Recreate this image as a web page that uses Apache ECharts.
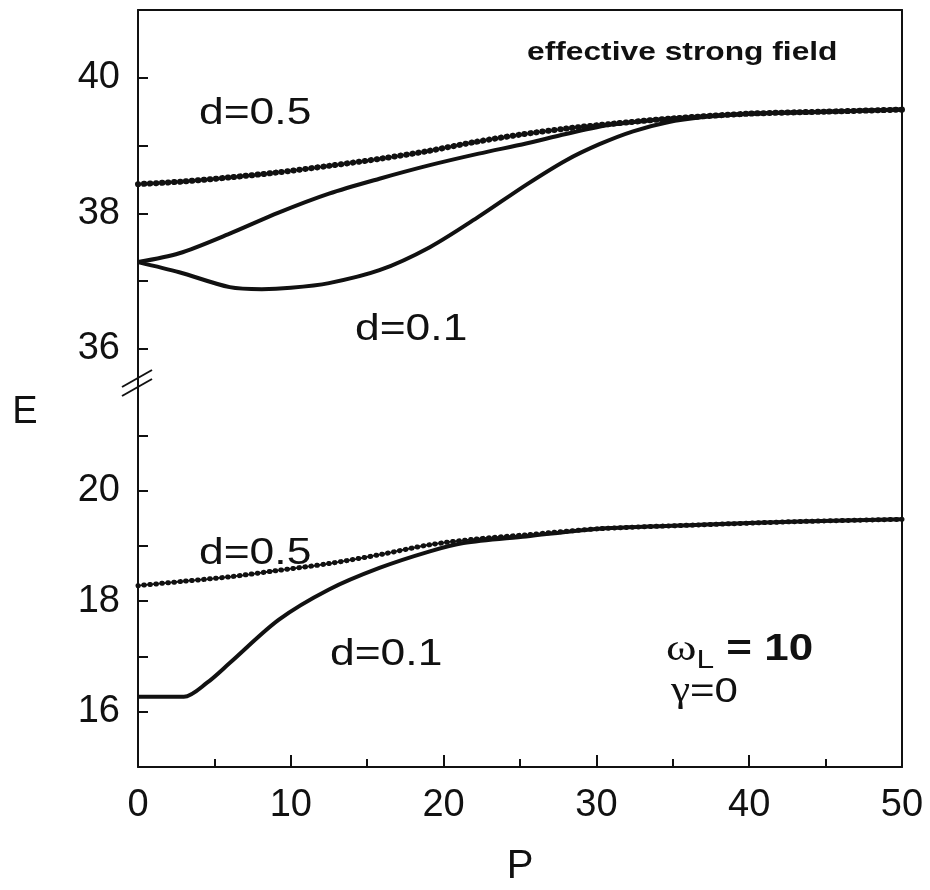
<!DOCTYPE html>
<html>
<head>
<meta charset="utf-8">
<script src="https://cdn.jsdelivr.net/npm/echarts@6/dist/echarts.min.js"></script>
<style>html,body{margin:0;padding:0;background:#fff}#c{width:930px;height:890px}</style>
</head>
<body>
<div id="c"></div>
<script>
// ---- data ----
// Upper panel (second level, E ~ 36..41)
const upD05P = [0, 3, 6, 9, 12.5, 16, 19, 22, 25, 28, 31, 35, 40, 45, 50];
const upD05E = [38.43, 38.47, 38.53, 38.60, 38.70, 38.81, 38.92, 39.05, 39.16, 39.25, 39.32, 39.40, 39.47, 39.50, 39.53];

const upD01aP = [0, 2.7, 6, 9.2, 12.5, 15.8, 19.1, 22.3, 25.4, 28, 31, 35, 40, 45, 50];
const upD01aE = [37.28, 37.41, 37.70, 38.01, 38.29, 38.51, 38.71, 38.88, 39.03, 39.17, 39.31, 39.40, 39.47, 39.50, 39.53];

const upD01bP = [0, 2.7, 6, 8.1, 10, 12.5, 15.8, 19.1, 22.3, 25.4, 28, 30.2, 32.4, 34.6, 37, 40, 45, 50];
const upD01bE = [37.28, 37.13, 36.91, 36.88, 36.90, 36.97, 37.16, 37.50, 37.95, 38.42, 38.78, 39.02, 39.21, 39.34, 39.42, 39.47, 39.50, 39.53];

// Lower panel (first level, E ~ 15..21)
const loD05P = [0, 3, 6, 9, 12.5, 16, 19.1, 22, 25.4, 30.2, 36.8, 43.3, 50];
const loD05E = [18.28, 18.36, 18.44, 18.55, 18.68, 18.85, 19.02, 19.12, 19.20, 19.31, 19.38, 19.44, 19.48];

const loD01P = [0, 3.0, 4.5, 6.0, 9.2, 12.5, 15.8, 19.1, 21.3, 25.4, 30.2, 36.8, 43.3, 50];
const loD01E = [16.27, 16.27, 16.52, 16.88, 17.66, 18.21, 18.60, 18.90, 19.05, 19.17, 19.31, 19.38, 19.44, 19.48];

// tick values
const xTicks = [0, 10, 20, 30, 40, 50];
const upTicks = [36, 37, 38, 39, 40];
const upLabels = [36, 38, 40];
const loTicks = [16, 17, 18, 19, 20, 21];
const loLabels = [16, 18, 20];

const zip = (a, b) => a.map((v, i) => [v, b[i]]);

const FONT = "'Liberation Sans', Arial, Helvetica, sans-serif";
const SERIF = "'Liberation Serif', 'DejaVu Serif', serif";
const INK = '#111';

const chart = echarts.init(document.getElementById('c'), null, {renderer: 'canvas'});

const SM = 0.3;
const solid = (name, xi, yi, P, E) => ({
  name, type: 'line', xAxisIndex: xi, yAxisIndex: yi,
  data: zip(P, E), showSymbol: false, smooth: SM,
  lineStyle: {color: INK, width: 4}, silent: true, z: 3
});
const thin = (name, xi, yi, P, E) => ({
  name, type: 'line', xAxisIndex: xi, yAxisIndex: yi,
  data: zip(P, E), showSymbol: false, smooth: SM,
  lineStyle: {color: INK, width: 1.8}, silent: true, z: 2
});
const beads = (name, xi, yi, P, E, w) => ({
  name, type: 'line', xAxisIndex: xi, yAxisIndex: yi,
  data: zip(P, E), showSymbol: false, smooth: SM,
  lineStyle: {color: INK, width: w, type: [0.5, 5.5], cap: 'round'}, silent: true, z: 4
});

const yCommon = {
  type: 'value',
  axisLine: {show: true, onZero: false, lineStyle: {color: INK, width: 2}},
  splitLine: {show: false},
  axisTick: {show: true, inside: true, length: 10, lineStyle: {color: INK, width: 2}},
  axisLabel: {show: true, color: INK, fontSize: 38, fontFamily: FONT, margin: 18}
};
const yRight = {
  type: 'value', position: 'right',
  axisLine: {show: true, onZero: false, lineStyle: {color: INK, width: 2}},
  splitLine: {show: false}, axisTick: {show: false}, axisLabel: {show: false}
};

const option = {
  backgroundColor: '#fff',
  animation: false,
  grid: [
    {left: 138, right: 28, top: 10, height: 370},
    {left: 138, right: 28, top: 380, height: 387}
  ],
  xAxis: [
    {type: 'value', gridIndex: 0, position: 'top', min: 0, max: 50,
     axisLine: {show: true, onZero: false, lineStyle: {color: INK, width: 2}},
     axisTick: {show: false}, axisLabel: {show: false}, splitLine: {show: false}},
    {type: 'value', gridIndex: 1, position: 'bottom', min: 0, max: 50, interval: 10,
     axisLine: {show: true, onZero: false, lineStyle: {color: INK, width: 2}},
     axisTick: {show: true, inside: true, length: 12, lineStyle: {color: INK, width: 2}},
     minorTick: {show: true, splitNumber: 2, length: 8, lineStyle: {color: INK, width: 2}},
     axisLabel: {show: true, color: INK, fontSize: 38, fontFamily: FONT, margin: 20,
                 customValues: xTicks},
     splitLine: {show: false},
     name: 'P', nameLocation: 'middle', nameGap: 80,
     nameTextStyle: {color: INK, fontSize: 40, fontFamily: FONT}}
  ],
  yAxis: [
    Object.assign({}, yCommon, {gridIndex: 0, min: 35.54, max: 41,
      axisTick: Object.assign({}, yCommon.axisTick, {customValues: upTicks}),
      axisLabel: Object.assign({}, yCommon.axisLabel, {customValues: upLabels})}),
    Object.assign({}, yRight, {gridIndex: 0, min: 35.54, max: 41}),
    Object.assign({}, yCommon, {gridIndex: 1, min: 15, max: 22,
      axisTick: Object.assign({}, yCommon.axisTick, {customValues: loTicks}),
      axisLabel: Object.assign({}, yCommon.axisLabel, {customValues: loLabels})}),
    Object.assign({}, yRight, {gridIndex: 1, min: 15, max: 22})
  ],
  series: [
    thin('upper d=0.5', 0, 0, upD05P, upD05E),
    beads('upper d=0.5 dots', 0, 0, upD05P, upD05E, 6),
    solid('upper d=0.1 (a)', 0, 0, upD01aP, upD01aE),
    solid('upper d=0.1 (b)', 0, 0, upD01bP, upD01bE),
    thin('lower d=0.5', 1, 2, loD05P, loD05E),
    beads('lower d=0.5 dots', 1, 2, loD05P, loD05E, 5),
    solid('lower d=0.1', 1, 2, loD01P, loD01E)
  ],
  graphic: [
    // axis break marks
    {type: 'line', shape: {x1: 122, y1: 387, x2: 152, y2: 370}, style: {stroke: INK, lineWidth: 2}},
    {type: 'line', shape: {x1: 122, y1: 396, x2: 152, y2: 379}, style: {stroke: INK, lineWidth: 2}},
    // y-axis name
    {type: 'text', x: 25, y: 413, style: {text: 'E', font: '38px ' + FONT, fill: INK, align: 'center', verticalAlign: 'middle'}},
    // annotations
    {type: 'text', x: 527, y: 53, scaleX: 1.27, style: {text: 'effective strong field', font: 'bold 25px ' + FONT, fill: INK, align: 'left', verticalAlign: 'middle'}},
    {type: 'text', x: 199, y: 114, scaleX: 1.2, style: {text: 'd=0.5', font: '37px ' + FONT, fill: INK, align: 'left', verticalAlign: 'middle'}},
    {type: 'text', x: 355, y: 330, scaleX: 1.2, style: {text: 'd=0.1', font: '37px ' + FONT, fill: INK, align: 'left', verticalAlign: 'middle'}},
    {type: 'text', x: 199, y: 554, scaleX: 1.2, style: {text: 'd=0.5', font: '37px ' + FONT, fill: INK, align: 'left', verticalAlign: 'middle'}},
    {type: 'text', x: 330, y: 655, scaleX: 1.2, style: {text: 'd=0.1', font: '37px ' + FONT, fill: INK, align: 'left', verticalAlign: 'middle'}},
    {type: 'text', x: 666, y: 650, scaleX: 1.22, style: {
      text: '{w|ω}{s|L}{b| = 10}', fill: INK, align: 'left', verticalAlign: 'middle',
      rich: {
        w: {fontSize: 38, fontFamily: SERIF, fill: INK},
        s: {fontSize: 26, fontFamily: FONT, fill: INK, padding: [22, 0, 0, 0]},
        b: {fontSize: 36, fontWeight: 'bold', fontFamily: FONT, fill: INK}
      }}},
    {type: 'text', x: 671, y: 692, scaleX: 1.2, style: {
      text: '{g|γ}{t|=0}', fill: INK, align: 'left', verticalAlign: 'middle',
      rich: {
        g: {fontSize: 36, fontFamily: SERIF, fill: INK},
        t: {fontSize: 35, fontFamily: FONT, fill: INK}
      }}}
  ]
};
chart.setOption(option);
</script>
</body>
</html>
